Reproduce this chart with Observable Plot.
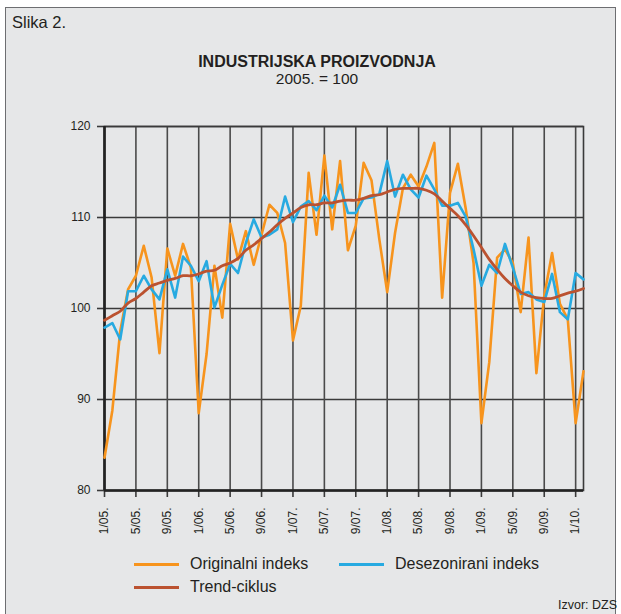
<!DOCTYPE html>
<html><head><meta charset="utf-8">
<script src="https://cdn.jsdelivr.net/npm/d3@7"></script>
<script src="https://cdn.jsdelivr.net/npm/@observablehq/plot@0.6"></script>
<style>
body{margin:0;background:#fff;font-family:"Liberation Sans",Arial,sans-serif;color:#231f20}
#page{position:relative;width:621px;height:614px;overflow:hidden}
#box{position:absolute;left:5px;top:7px;width:611px;height:612px;background:#e6e7e8;border:1px solid #6d6e71;box-sizing:border-box}
.t{position:absolute;white-space:nowrap;line-height:1}
#chart{position:absolute;left:0;top:100px}
.sw{position:absolute;height:3px;width:45px}
</style></head>
<body><div id="page">
<div id="box"></div>
<div class="t" style="left:12px;top:14px;font-size:16.5px">Slika 2.</div>
<div class="t" style="left:0;width:634px;text-align:center;top:54px;font-size:16px;font-weight:bold">INDUSTRIJSKA PROIZVODNJA</div>
<div class="t" style="left:0;width:634px;text-align:center;top:71px;font-size:15.5px">2005. = 100</div>
<div id="chart"></div>
<div class="sw" style="left:134px;top:563px;background:#f7941d"></div>
<div class="t" style="left:190px;top:556px;font-size:16px">Originalni indeks</div>
<div class="sw" style="left:339px;top:563px;background:#27aae1"></div>
<div class="t" style="left:395px;top:556px;font-size:16px">Desezonirani indeks</div>
<div class="sw" style="left:134px;top:586px;background:#bb5230"></div>
<div class="t" style="left:190px;top:579px;font-size:16px">Trend-ciklus</div>
<div class="t" style="right:4px;top:599px;font-size:12.5px">Izvor: DZS</div>
</div>
<script>
const tickLabels = ["1/05.","5/05.","9/05.","1/06.","5/06.","9/06.","1/07.","5/07.","9/07.","1/08.","5/08.","9/08.","1/09.","5/09.","9/09.","1/10."];
const yTicks = [80, 90, 100, 110, 120];
const originalni = [83.6,88.8,97.5,102.1,103.6,106.9,103.4,95.1,106.6,103.6,107.1,104.5,88.5,95.0,104.7,99.0,
  109.3,105.4,108.5,104.8,108.1,111.4,110.5,107.2,96.5,100.3,114.9,108.1,116.8,108.7,116.2,106.4,
  109.1,116.0,114.1,107.6,101.8,108.3,113.2,114.7,113.4,115.6,118.2,101.2,112.7,115.9,111.0,105.0,
  87.4,94.1,105.6,106.5,105.0,99.6,107.8,92.9,101.4,106.1,100.5,98.8,87.4,93.1];
const desezonirani = [97.9,98.4,96.6,101.9,101.9,103.6,102.1,101.0,104.3,101.2,105.7,104.7,103.0,105.2,100.1,102.6,
  104.9,103.9,107.2,109.8,107.8,108.1,108.7,112.3,109.5,111.2,111.8,110.8,112.4,111.1,113.6,110.5,
  110.5,112.1,112.2,112.6,116.2,112.3,114.7,113.1,112.2,114.6,113.1,111.3,111.3,111.6,110.1,106.5,
  102.5,104.8,103.9,107.1,104.5,101.6,101.8,101.0,100.7,103.8,99.6,98.8,103.9,103.2];
const trend = [98.7,99.2,99.7,100.6,101.1,101.8,102.5,102.8,103.1,103.3,103.6,103.6,103.8,104.1,104.2,104.7,
  105.0,105.5,106.4,107.0,107.7,108.4,109.2,109.9,110.5,111.1,111.4,111.4,111.6,111.6,111.8,111.9,
  111.9,112.1,112.4,112.5,112.8,113.1,113.2,113.2,113.2,113.0,112.6,111.8,111.0,110.2,109.2,108.0,
  106.7,105.4,104.3,103.3,102.5,101.8,101.4,101.2,101.1,101.1,101.4,101.7,101.9,102.2];

const xTicks = tickLabels.map((_, k) => k * 4);
const idx = originalni.map((_, i) => i);

const chart = Plot.plot({
  width: 621, height: 450,
  marginTop: 26, marginBottom: 60, marginLeft: 104, marginRight: 38,
  style: {background: "transparent", fontFamily: "'Liberation Sans', Arial, sans-serif", fontSize: "12px", color: "#231f20", overflow: "visible"},
  x: {domain: [0, 61]},
  y: {domain: [80, 120]},
  marks: [
    Plot.gridY(yTicks, {stroke: "#3a3a3a", strokeOpacity: 1, strokeWidth: 1.6}),
    Plot.gridX(xTicks, {stroke: "#4a4a4a", strokeOpacity: 1, strokeWidth: 1.6}),
    Plot.axisY(yTicks, {tickSize: 7, tickPadding: 7, stroke: "#3a3a3a", strokeWidth: 1.6, label: null}),
    Plot.axisX(xTicks, {tickSize: 7, tickPadding: 10, tickRotate: -90, tickFormat: (d) => tickLabels[d / 4], stroke: "#3a3a3a", strokeWidth: 1.6, label: null}),
    Plot.frame({stroke: "#3a3a3a", strokeWidth: 1.6}),
    Plot.ruleX([0], {stroke: "#222", strokeWidth: 2.6}),
    Plot.ruleY([80], {stroke: "#222", strokeWidth: 2.6}),
    Plot.line(idx, {x: (i) => i, y: (i) => originalni[i], stroke: "#f7941d", strokeWidth: 2.6}),
    Plot.line(idx, {x: (i) => i, y: (i) => desezonirani[i], stroke: "#27aae1", strokeWidth: 2.6}),
    Plot.line(idx, {x: (i) => i, y: (i) => trend[i], stroke: "#bb5230", strokeWidth: 2.8, curve: "catmull-rom"})
  ]
});
document.getElementById("chart").appendChild(chart);
</script>
</body></html>
